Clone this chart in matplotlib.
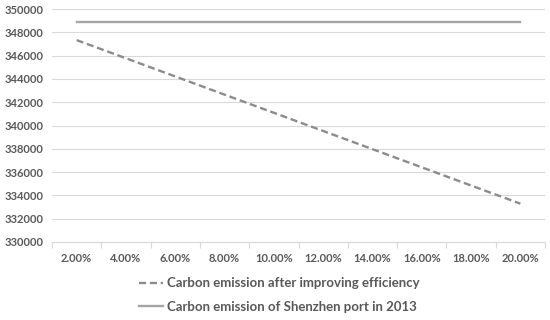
import matplotlib
matplotlib.use("Agg")
import matplotlib.pyplot as plt
import numpy as np

categories = ["2.00%", "4.00%", "6.00%", "8.00%", "10.00%", "12.00%", "14.00%", "16.00%", "18.00%", "20.00%"]
after_eff = [347330, 345770, 344210, 342650, 341090, 339530, 337970, 336410, 334850, 333290]
baseline_2013 = [348870] * 10
yticks = [330000, 332000, 334000, 336000, 338000, 340000, 342000, 344000, 346000, 348000, 350000]

plt.rcParams['font.family'] = ['Lato', 'DejaVu Sans']
text_col = '#595959'

fig = plt.figure(figsize=(5.5, 3.2), dpi=100)
ax = fig.add_axes([52/550, 1 - 242/320, (545-52)/550, (242-9)/320])

x = np.arange(1, len(categories) + 1)
ax.plot(x, after_eff, color='#8c8c8c', lw=1.7, ls=(0, (3.0, 1.6)), label='Carbon emission after improving efficiency')
ax.plot(x, baseline_2013, color='#a5a5a5', lw=1.7, label='Carbon emission of Shenzhen port in 2013')

ax.set_xlim(0.5, len(categories) + 0.5)
ax.set_ylim(330000, 350000)
ax.set_yticks(yticks)
ax.set_yticklabels([str(v) for v in yticks], fontsize=8, fontweight='bold', color=text_col)
ax.set_xticks(x)
ax.set_xticklabels(categories, fontsize=8, fontweight='bold', color=text_col)
ax.set_xticks(np.arange(0.5, len(categories) + 1, 1), minor=True)
ax.tick_params(axis='x', which='major', length=0, pad=8)
ax.tick_params(axis='x', which='minor', length=4, color='#d9d9d9', width=0.8)
ax.tick_params(axis='y', length=0, pad=6)
ax.grid(axis='y', color='#d9d9d9', lw=0.8)
ax.set_axisbelow(True)
for s in ['top', 'right', 'left']:
    ax.spines[s].set_visible(False)
ax.spines['bottom'].set_color('#d9d9d9')
ax.spines['bottom'].set_linewidth(0.8)
for lab in ax.get_yticklabels():
    lab.set_horizontalalignment('left')
    lab.set_x(-39/493)

leg = fig.legend(loc='center', bbox_to_anchor=(279/550, 1 - 295/320), ncol=1, frameon=False,
                 prop={'size': 9.5, 'weight': 'bold'}, handlelength=1.8, handletextpad=0.3,
                 labelspacing=0.85)
for t in leg.get_texts():
    t.set_color(text_col)

fig.savefig('out.png', dpi=100)
